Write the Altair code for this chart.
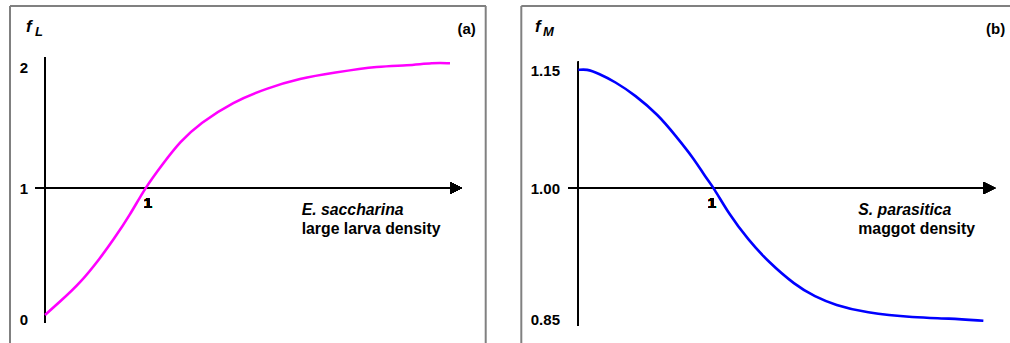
import altair as alt
import pandas as pd

FONT = "Liberation Sans"

# Panel (a): E. saccharina large larva density -> f_L
xa = [0, 0.15, 0.35, 0.55, 0.683, 0.85, 1.0, 1.183, 1.35, 1.55, 1.883, 2.217,
      2.55, 2.883, 3.35, 3.617, 3.883, 4.05]
ya = [0.027, 0.129, 0.270, 0.461, 0.602, 0.793, 1.0, 1.204, 1.382, 1.533, 1.711,
      1.822, 1.904, 1.950, 2.006, 2.008, 2.033, 2.028]

# Panel (b): S. parasitica maggot density -> f_M
xb = [0, 0.061, 0.147, 0.27, 0.418, 0.59, 0.713, 0.86, 0.934, 1.0, 1.106, 1.253,
      1.4, 1.597, 1.744, 1.892, 2.113, 2.48, 2.73, 2.985]
yb = [1.1494, 1.1506, 1.1452, 1.1346, 1.1177, 1.0924, 1.0671, 1.0354, 1.0143, 1.0,
      0.9709, 0.9402, 0.9152, 0.8885, 0.8750, 0.8655, 0.8566, 0.8509, 0.8502, 0.8474]

a_tick_values = [0, 1, 2]
a_tick_labels = ["0", "1", "2"]
b_tick_values = [0.85, 1.00, 1.15]
b_tick_labels = ["0.85", "1.00", "1.15"]

df_a = pd.DataFrame({"x": xa, "y": ya})
df_b = pd.DataFrame({"x": xb, "y": yb})
ticks_a = pd.DataFrame({"v": a_tick_values, "t": a_tick_labels})
ticks_b = pd.DataFrame({"v": b_tick_values, "t": b_tick_labels})

ARROW = "M -1 -1 L 1 0 L -1 1 Z"


def panel(df, ticks, color, xscale, yscale, y0, yv_lo, yv_hi, x_lo, x_hi,
          arrow_x, tick_x, tick_align, one_dx):
    X = lambda v: alt.X(v, scale=xscale, axis=None)
    Y = lambda v: alt.Y(v, scale=yscale, axis=None)
    curve = alt.Chart(df).mark_line(
        color=color, strokeWidth=2.6, interpolate="basis"
    ).encode(x=X("x:Q"), y=Y("y:Q"))
    vaxis = alt.Chart(df).mark_rule(color="black", strokeWidth=1).encode(
        x=alt.X(datum=0, scale=xscale, axis=None),
        y=alt.Y(datum=yv_lo, scale=yscale, axis=None),
        y2=alt.datum(yv_hi),
    )
    haxis = alt.Chart(df).mark_rule(color="black", strokeWidth=1).encode(
        x=alt.X(datum=x_lo, scale=xscale, axis=None),
        x2=alt.datum(x_hi),
        y=alt.Y(datum=y0, scale=yscale, axis=None),
    )
    arrow = alt.Chart(df).mark_point(
        shape=ARROW, size=144, filled=True, color="black", opacity=1, strokeWidth=0
    ).encode(
        x=alt.X(datum=arrow_x, scale=xscale, axis=None),
        y=alt.Y(datum=y0, scale=yscale, axis=None),
    )
    tick_text = alt.Chart(ticks).mark_text(
        font=FONT, fontSize=15, fontWeight="bold", align=tick_align,
        baseline="middle", dy=1, color="black"
    ).encode(
        x=alt.X(datum=tick_x, scale=xscale, axis=None),
        y=Y("v:Q"),
        text="t:N",
    )
    one_text = alt.Chart(df).mark_text(
        font=FONT, fontSize=15, fontWeight="bold", align="center",
        baseline="middle", dx=one_dx, dy=15, color="black"
    ).encode(
        x=alt.X(datum=1, scale=xscale, axis=None),
        y=alt.Y(datum=y0, scale=yscale, axis=None),
        text=alt.value("1"),
    )
    return alt.layer(vaxis, haxis, arrow, curve, tick_text, one_text)


panel_a = panel(
    df_a, ticks_a, "#FF00FF",
    alt.Scale(domain=[0, 1], range=[45, 145], nice=False, zero=False),
    alt.Scale(domain=[0, 1, 2], range=[318.5, 188, 66.7], nice=False, zero=False),
    y0=1, yv_lo=-0.032, yv_hi=2.078, x_lo=-0.10, x_hi=4.10,
    arrow_x=4.11, tick_x=-0.21, tick_align="center", one_dx=3,
)

panel_b = panel(
    df_b, ticks_b, "#0000FF",
    alt.Scale(domain=[0, 1], range=[578.3, 714], nice=False, zero=False),
    alt.Scale(domain=[0.85, 1.0, 1.15], range=[318.5, 188, 69.5], nice=False, zero=False),
    y0=1.0, yv_lo=0.8414, yv_hi=1.1599, x_lo=-0.074, x_hi=3.0,
    arrow_x=3.03, tick_x=-0.135, tick_align="right", one_dx=-2,
)

# Frames around each panel (open at the bottom)
frame_df = pd.DataFrame({"k": [0]})


def vline(x, y1, y2):
    return alt.Chart(frame_df).mark_rule(color="#808080", strokeWidth=2).encode(
        x=alt.value(x), y=alt.value(y1), y2=alt.value(y2))


def hline(x1, x2, y):
    return alt.Chart(frame_df).mark_rule(color="#808080", strokeWidth=2).encode(
        x=alt.value(x1), x2=alt.value(x2), y=alt.value(y))


frames = alt.layer(
    vline(10, 6, 343), hline(10, 486, 6), vline(485.7, 6, 343),
    vline(521.3, 6, 343), hline(521.3, 1010, 6),
)


def label(text, x, y, size=15.8, style="normal", align="left", baseline="alphabetic"):
    return alt.Chart(frame_df).mark_text(
        text=text, font=FONT, fontSize=size, fontWeight="bold", fontStyle=style,
        align=align, baseline=baseline, color="black"
    ).encode(x=alt.value(x), y=alt.value(y))


texts = alt.layer(
    label("f", 26, 32, size=17, style="italic"),
    label("L", 35, 35.5, size=13, style="italic"),
    label("f", 535, 32, size=17, style="italic"),
    label("M", 543, 35.5, size=13, style="italic"),
    label("(a)", 466.7, 28.5, size=15, align="center", baseline="middle"),
    label("(b)", 995.7, 28.5, size=15, align="center", baseline="middle"),
    label("E. saccharina", 301.7, 215, style="italic"),
    label("large larva density", 301.7, 233.5),
    label("S. parasitica", 858.3, 215, style="italic"),
    label("maggot density", 858.3, 233.5),
)

chart = alt.layer(frames, panel_a, panel_b, texts).resolve_scale(
    x="independent", y="independent"
).properties(
    width=1010, height=343, autosize="none", padding=0, background="white"
).configure_view(stroke=None)

chart.save("out.html", embed_options={"renderer": "svg", "actions": False})
